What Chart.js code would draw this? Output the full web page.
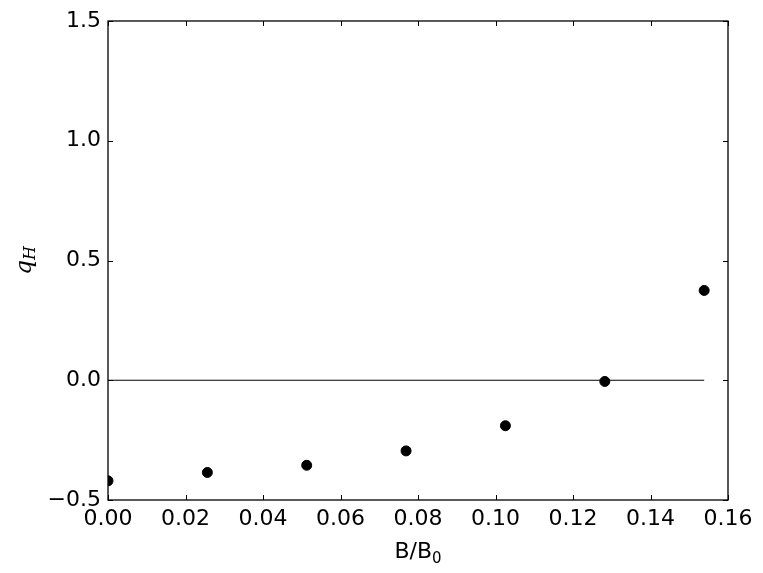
<!DOCTYPE html>
<html>
<head>
<meta charset="utf-8">
<script src="https://cdn.jsdelivr.net/npm/chart.js@4/dist/chart.umd.min.js"></script>
<style>
  html, body { margin: 0; padding: 0; background: #fff; }
  #wrap { width: 763px; height: 573px; }
</style>
</head>
<body>
<div id="wrap"><canvas id="chart" width="763" height="573"></canvas></div>
<script>
// data
const fieldRatio = [0, 0.02564, 0.05128, 0.07692, 0.10256, 0.12821, 0.15385];
const qH = [-0.42, -0.385, -0.355, -0.295, -0.19, -0.005, 0.375];
const zeroLine = [0, 0];
const xTicks = [0, 0.02, 0.04, 0.06, 0.08, 0.10, 0.12, 0.14, 0.16];
const yTicks = [-0.5, 0, 0.5, 1.0, 1.5];

const FONT = 'DejaVu Sans';

// matplotlib-classic frame: box on all sides, ticks pointing inward
const framePlugin = {
    id: 'frame',
    afterDatasetsDraw(chart) {
        const { ctx, chartArea: a, scales } = chart;
        ctx.save();
        ctx.strokeStyle = '#000';
        ctx.lineWidth = 1;
        const len = 5;
        ctx.beginPath();
        scales.x.ticks.forEach(t => {
            const px = Math.round(scales.x.getPixelForValue(t.value)) + 0.5;
            ctx.moveTo(px, a.bottom); ctx.lineTo(px, a.bottom - len);
            ctx.moveTo(px, a.top); ctx.lineTo(px, a.top + len);
        });
        scales.y.ticks.forEach(t => {
            const py = Math.round(scales.y.getPixelForValue(t.value)) + 0.5;
            ctx.moveTo(a.left, py); ctx.lineTo(a.left + len, py);
            ctx.moveTo(a.right, py); ctx.lineTo(a.right - len, py);
        });
        ctx.stroke();
        ctx.lineWidth = 1.3;
        ctx.strokeRect(a.left, a.top, a.right - a.left, a.bottom - a.top);

        // axis labels with subscripts
        ctx.fillStyle = '#000';
        ctx.textBaseline = 'alphabetic';
        const cx = (a.left + a.right) / 2;
        const main = 'B/B';
        ctx.font = '15px ' + FONT;
        const subW = ctx.measureText('0').width;
        ctx.font = '22px ' + FONT;
        const mainW = ctx.measureText(main).width;
        let x0 = cx - (mainW + subW) / 2;
        ctx.textAlign = 'left';
        ctx.fillText(main, x0, 558);
        ctx.font = '15px ' + FONT;
        ctx.fillText('0', x0 + mainW, 563);

        ctx.translate(31, (a.top + a.bottom) / 2);
        ctx.rotate(-Math.PI / 2);
        ctx.font = 'italic 23px "DejaVu Serif"';
        const qW = ctx.measureText('q').width;
        ctx.font = 'italic 16px "DejaVu Serif"';
        const hW = ctx.measureText('H').width;
        const sx = -(qW + hW) / 2;
        ctx.font = 'italic 23px "DejaVu Serif"';
        ctx.fillText('q', sx, 0);
        ctx.font = 'italic 16px "DejaVu Serif"';
        ctx.fillText('H', sx + qW, 4);
        ctx.restore();
    }
};

new Chart(document.getElementById('chart'), {
    type: 'scatter',
    data: {
        datasets: [
            {
                type: 'line',
                data: [fieldRatio[0], fieldRatio[fieldRatio.length - 1]].map((x, i) => ({ x, y: zeroLine[i] })),
                borderColor: '#000',
                borderWidth: 1.2,
                pointRadius: 0,
                fill: false
            },
            {
                data: fieldRatio.map((x, i) => ({ x, y: qH[i] })),
                backgroundColor: '#000',
                borderColor: '#000',
                pointRadius: 5,
                pointHoverRadius: 5
            }
        ]
    },
    options: {
        responsive: false,
        animation: false,
        events: [],
        layout: { padding: { left: 0, top: 21, right: 35, bottom: 0 } },
        plugins: { legend: { display: false }, tooltip: { enabled: false } },
        scales: {
            x: {
                type: 'linear',
                min: 0, max: 0.16,
                grid: { display: false, drawTicks: false },
                border: { display: false },
                afterBuildTicks: s => { s.ticks = xTicks.map(v => ({ value: v })); },
                afterFit: s => { s.height = 73; },
                ticks: {
                    color: '#000',
                    font: { family: FONT, size: 22 },
                    padding: 6,
                    maxRotation: 0,
                    callback: v => v.toFixed(2)
                }
            },
            y: {
                type: 'linear',
                min: -0.5, max: 1.5,
                grid: { display: false, drawTicks: false },
                border: { display: false },
                afterBuildTicks: s => { s.ticks = yTicks.map(v => ({ value: v })); },
                afterFit: s => { s.width = 108; },
                ticks: {
                    color: '#000',
                    font: { family: FONT, size: 22 },
                    padding: 7,
                    callback: v => v.toFixed(1).replace('-', '\u2212')
                }
            }
        }
    },
    plugins: [framePlugin]
});
</script>
</body>
</html>
